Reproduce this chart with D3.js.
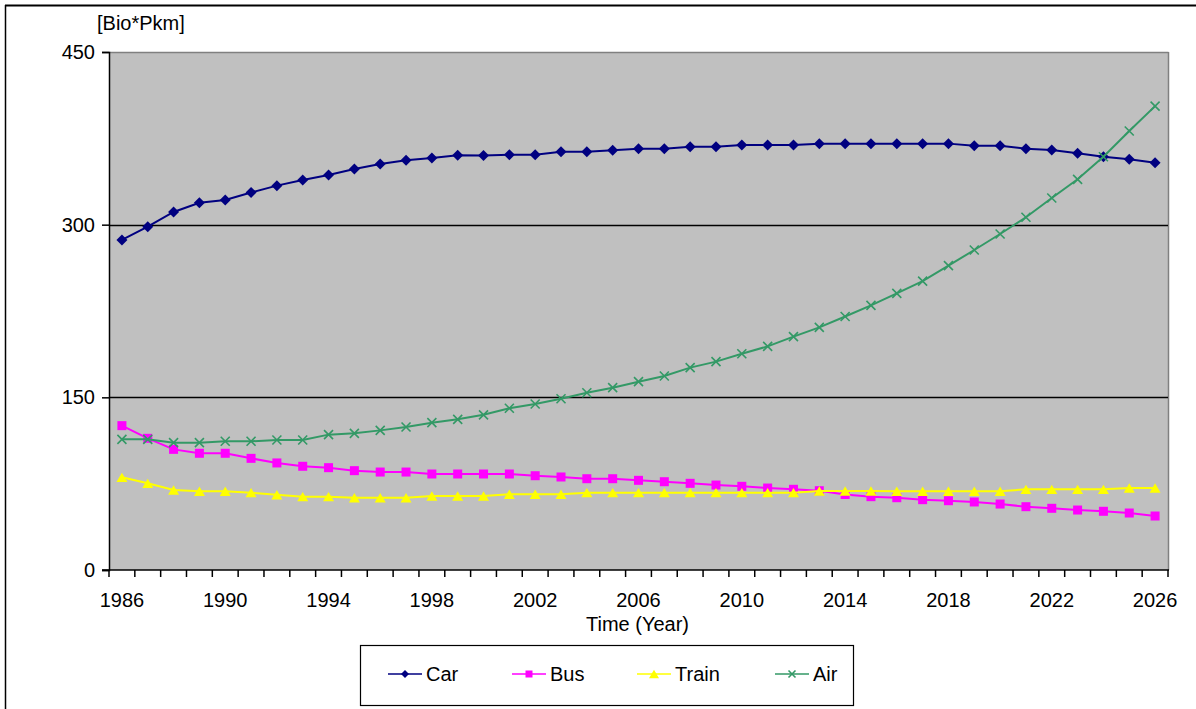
<!DOCTYPE html>
<html>
<head>
<meta charset="utf-8">
<script src="https://cdn.jsdelivr.net/npm/d3@7"></script>
<style>
  html, body { margin: 0; padding: 0; background: #fff; }
  svg { display: block; font-family: Arial, "Liberation Sans", sans-serif; }
</style>
</head>
<body>
<svg id="chart" width="1196" height="709"></svg>
<script>
// Passenger transport volume by mode, 1986–2026 (billion passenger-km)
const years = d3.range(1986, 2027);
const yTicks = [0, 150, 300, 450];
const xTickLabels = [1986, 1990, 1994, 1998, 2002, 2006, 2010, 2014, 2018, 2022, 2026];

const car = [286.7, 298.2, 311, 319, 321.4, 328, 333.9, 338.8, 343.1, 348.3,
             352.7, 356, 358, 360.2, 360, 360.8, 360.8, 363.4, 363.4, 364.6,
             366, 366, 367.7, 367.7, 369.2, 369.2, 369.2, 370.4, 370.4, 370.4,
             370.4, 370.4, 370.4, 368.6, 368.6, 366, 364.9, 362, 359, 356.8, 353.8];
const bus = [125.4, 114.4, 104.8, 101.4, 101.4, 97, 93, 90.1, 88.9, 86.3,
             85.1, 85.1, 83.4, 83.4, 83.4, 83.4, 81.9, 80.8, 79.3, 79.3,
             77.9, 76.7, 75.3, 73.8, 72.7, 71.2, 70.1, 68.9, 65.6, 63.7,
             62.8, 61.1, 60.2, 59.1, 57.3, 55, 53.6, 52.1, 51, 49.5, 46.9];
const train = [80.5, 75.3, 69.5, 68.4, 68.4, 67.2, 65.4, 63.7, 63.7, 62.8,
               62.8, 62.8, 64.3, 64.3, 64.3, 65.8, 65.8, 65.8, 67.2, 67.2,
               67.2, 67.2, 67.2, 67.2, 67.2, 67.2, 67.2, 68.6, 68.6, 68.6,
               68.4, 68.4, 68.4, 68.4, 68.4, 70.1, 70.1, 70.1, 70.1, 71.2, 71.2];
const air = [113.5, 113.5, 110.6, 110.6, 111.8, 111.8, 112.9, 112.9, 117.6, 118.7,
             121.3, 124.2, 128, 130.9, 134.8, 140.5, 144.2, 148.8, 154, 158.4,
             163.6, 168.5, 175.8, 181, 187.9, 194.3, 202.7, 210.8, 220.2, 229.9,
             240.3, 251, 264.4, 278, 291.9, 306.4, 323.2, 339.4, 359, 381.4, 403];

const series = [
  { name: "Car",   values: car,   color: "#000080", shape: "diamond",  size: 11, legendSize: 8 },
  { name: "Bus",   values: bus,   color: "#FF00FF", shape: "square",   size: 9,  legendSize: 7 },
  { name: "Train", values: train, color: "#FFFF00", shape: "triangle", size: 11, legendSize: 10 },
  { name: "Air",   values: air,   color: "#339966", shape: "x",        size: 9,  legendSize: 7 }
];

const FONT = 20;
const svg = d3.select("#chart");
const plot = { left: 109, right: 1168, top: 52, bottom: 570 };

// Outer chart frame (top and left edges visible)
svg.append("line").attr("x1", 5).attr("x2", 1196).attr("y1", 5.5).attr("y2", 5.5)
  .attr("stroke", "#000").attr("stroke-width", 2);
svg.append("line").attr("x1", 5.5).attr("x2", 5.5).attr("y1", 5).attr("y2", 709)
  .attr("stroke", "#000").attr("stroke-width", 1.5);

const x = d3.scaleBand().domain(years).range([plot.left, plot.right]).padding(0);
const y = d3.scaleLinear().domain([0, 450]).range([plot.bottom, plot.top]);
const cx = d => x(d) + x.bandwidth() / 2;

// Plot background
svg.append("rect")
  .attr("x", plot.left).attr("y", plot.top)
  .attr("width", plot.right - plot.left).attr("height", plot.bottom - plot.top)
  .attr("fill", "#C0C0C0");
svg.append("line").attr("x1", plot.left).attr("x2", plot.right + 0.5)
  .attr("y1", plot.top + 0.5).attr("y2", plot.top + 0.5).attr("stroke", "#808080").attr("stroke-width", 1.5);
svg.append("line").attr("x1", plot.right + 0.5).attr("x2", plot.right + 0.5)
  .attr("y1", plot.top).attr("y2", plot.bottom).attr("stroke", "#808080").attr("stroke-width", 1.5);

// Horizontal gridlines
svg.append("g").selectAll("line")
  .data(yTicks.filter(t => t > 0 && t < 450))
  .join("line")
  .attr("x1", plot.left).attr("x2", plot.right)
  .attr("y1", d => Math.round(y(d)) + 0.5).attr("y2", d => Math.round(y(d)) + 0.5)
  .attr("stroke", "#000").attr("stroke-width", 1.5);

// Y axis
const yAxis = d3.axisLeft(y).tickValues(yTicks).tickSize(7).tickPadding(7);
const gy = svg.append("g").attr("transform", `translate(${plot.left},0)`).call(yAxis);
gy.attr("font-size", FONT).attr("font-family", "Arial, 'Liberation Sans', sans-serif");
gy.select(".domain").attr("stroke", "#000").attr("stroke-width", 1.5);
gy.selectAll(".tick line").attr("stroke", "#000").attr("stroke-width", 1.5);
gy.selectAll(".tick text").attr("fill", "#000");

// X axis: ticks on category boundaries, labels every fourth year
const boundaries = d3.range(years.length + 1).map(i => plot.left + i * x.bandwidth());
const gx = svg.append("g");
gx.append("line").attr("x1", plot.left - 7).attr("x2", plot.right + 1)
  .attr("y1", plot.bottom).attr("y2", plot.bottom)
  .attr("stroke", "#000").attr("stroke-width", 1.5);
gx.selectAll("line.tick").data(boundaries).join("line").attr("class", "tick")
  .attr("x1", d => d).attr("x2", d => d)
  .attr("y1", plot.bottom).attr("y2", plot.bottom + 7)
  .attr("stroke", "#000").attr("stroke-width", 1.5);
gx.selectAll("text").data(xTickLabels).join("text")
  .attr("x", d => cx(d)).attr("y", plot.bottom + 37)
  .attr("text-anchor", "middle").attr("font-size", FONT).attr("fill", "#000")
  .text(d => d);

// Axis titles
svg.append("text").attr("x", 97).attr("y", 30).attr("font-size", FONT).attr("fill", "#000")
  .text("[Bio*Pkm]");
svg.append("text").attr("x", (plot.left + plot.right) / 2 - 1).attr("y", 631)
  .attr("text-anchor", "middle").attr("font-size", FONT).attr("fill", "#000")
  .text("Time (Year)");

// Marker drawing helper
function drawMarker(g, s, size) {
  const h = size / 2;
  if (s.shape === "x") {
    g.append("path").attr("d", `M${-h},${-h}L${h},${h}M${-h},${h}L${h},${-h}`)
      .attr("stroke", s.color).attr("stroke-width", 1.6).attr("fill", "none");
  } else if (s.shape === "diamond") {
    g.append("path").attr("d", `M0,${-h}L${h},0L0,${h}L${-h},0Z`).attr("fill", s.color);
  } else if (s.shape === "square") {
    g.append("rect").attr("x", -h).attr("y", -h).attr("width", size).attr("height", size)
      .attr("fill", s.color);
  } else {
    const th = size * 0.85;
    g.append("path").attr("d", `M0,${-th / 2}L${h},${th / 2}L${-h},${th / 2}Z`).attr("fill", s.color);
  }
}

// Series lines and markers
const line = d3.line().x((d, i) => cx(years[i])).y(d => y(d));
series.forEach(s => {
  const g = svg.append("g");
  g.append("path").datum(s.values).attr("d", line)
    .attr("fill", "none").attr("stroke", s.color).attr("stroke-width", 2);
  s.values.forEach((v, i) => {
    const m = g.append("g").attr("transform", `translate(${cx(years[i])},${y(v)})`);
    drawMarker(m, s, s.size);
  });
});

// Legend
const legend = svg.append("g");
legend.append("rect").attr("x", 360.5).attr("y", 645.5).attr("width", 493).attr("height", 60)
  .attr("fill", "#fff").attr("stroke", "#000").attr("stroke-width", 1.2);
const legendX = [388, 512, 637, 775];
series.forEach((s, i) => {
  const g = legend.append("g").attr("transform", `translate(${legendX[i]},674)`);
  g.append("line").attr("x1", 0).attr("x2", 34).attr("y1", 0).attr("y2", 0)
    .attr("stroke", s.color).attr("stroke-width", 1.5);
  const m = g.append("g").attr("transform", "translate(17,0)");
  drawMarker(m, s, s.legendSize);
  g.append("text").attr("x", 38).attr("y", 7).attr("font-size", FONT).attr("fill", "#000")
    .text(s.name);
});
</script>
</body>
</html>
